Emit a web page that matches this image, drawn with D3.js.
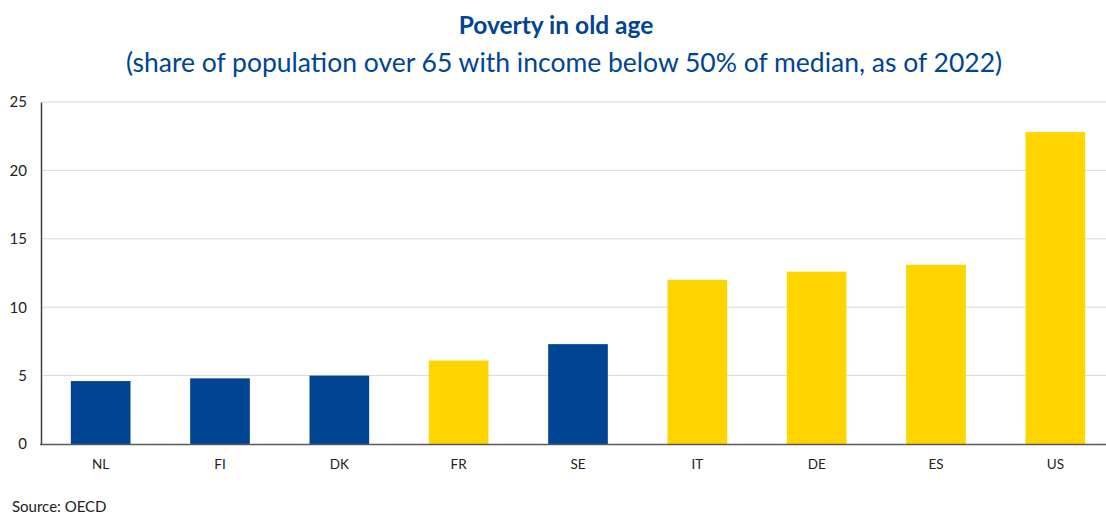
<!DOCTYPE html>
<html>
<head>
<meta charset="utf-8">
<script src="https://cdn.jsdelivr.net/npm/d3@7"></script>
<style>
  html, body { margin: 0; padding: 0; background: #fff; }
  svg { display: block; }
  text { font-family: Lato, "Open Sans", sans-serif; }
</style>
</head>
<body>
<svg id="chart" width="1106" height="514"></svg>
<script>
// Old-age poverty rate by country (% of 65+ with income below 50% of median, 2022)
const countries = ["NL", "FI", "DK", "FR", "SE", "IT", "DE", "ES", "US"];
const povertyRate = [4.6, 4.8, 5.0, 6.1, 7.3, 12.0, 12.6, 13.1, 22.8];
const highlight = [false, false, false, true, false, true, true, true, true];
const yTicks = [0, 5, 10, 15, 20, 25];

const titleText = "Poverty in old age";
const subtitleText = "(share of population over 65 with income below 50% of median, as of 2022)";
const sourceText = "Source: OECD";

const BLUE = "#004494";
const YELLOW = "#FFD500";

const svg = d3.select("#chart");
const W = 1106;

const x = d3.scaleBand()
  .domain(countries)
  .range([41, 1115])
  .paddingInner(0.5)
  .paddingOuter(0.25);

const y = d3.scaleLinear()
  .domain([0, 25])
  .range([444, 102]);

// Titles
svg.append("text")
  .attr("x", 556).attr("y", 34)
  .attr("text-anchor", "middle")
  .attr("fill", BLUE)
  .attr("font-size", 24.5)
  .attr("font-weight", "bold")
  .text(titleText);

svg.append("text")
  .attr("x", 564).attr("y", 72)
  .attr("text-anchor", "middle")
  .attr("fill", BLUE)
  .attr("font-size", 26.5)
  .text(subtitleText);

// Horizontal gridlines
svg.append("g")
  .selectAll("line")
  .data(yTicks.filter(d => d > 0))
  .join("line")
  .attr("x1", 41).attr("x2", W)
  .attr("y1", d => y(d)).attr("y2", d => y(d))
  .attr("stroke", "#d9d9d9")
  .attr("stroke-width", 1);

// Bars
svg.append("g")
  .selectAll("rect")
  .data(countries)
  .join("rect")
  .attr("x", d => x(d))
  .attr("width", x.bandwidth())
  .attr("y", (d, i) => y(povertyRate[i]))
  .attr("height", (d, i) => y(0) - y(povertyRate[i]))
  .attr("fill", (d, i) => highlight[i] ? YELLOW : BLUE);

// Y axis
const yAxis = svg.append("g")
  .attr("transform", "translate(41,0)")
  .call(d3.axisLeft(y).tickValues(yTicks).tickSize(0).tickPadding(14));
yAxis.select(".domain").attr("stroke", "#404040").attr("stroke-width", 1.5);
yAxis.selectAll("text")
  .attr("font-family", "Lato, sans-serif")
  .attr("font-size", 15)
  .attr("fill", "#222");

// X axis
const xAxis = svg.append("g")
  .attr("transform", "translate(0,444)")
  .call(d3.axisBottom(x).tickSize(0).tickPadding(15));
xAxis.select(".domain").remove();
xAxis.selectAll("text")
  .attr("font-family", "Lato, sans-serif")
  .attr("font-size", 13.5)
  .attr("fill", "#222");

svg.append("line")
  .attr("x1", 40).attr("x2", W)
  .attr("y1", 444.5).attr("y2", 444.5)
  .attr("stroke", "#595959")
  .attr("stroke-width", 1.5);

// Source note
svg.append("text")
  .attr("x", 12).attr("y", 512)
  .attr("font-size", 15)
  .attr("fill", "#222")
  .text(sourceText);
</script>
</body>
</html>
